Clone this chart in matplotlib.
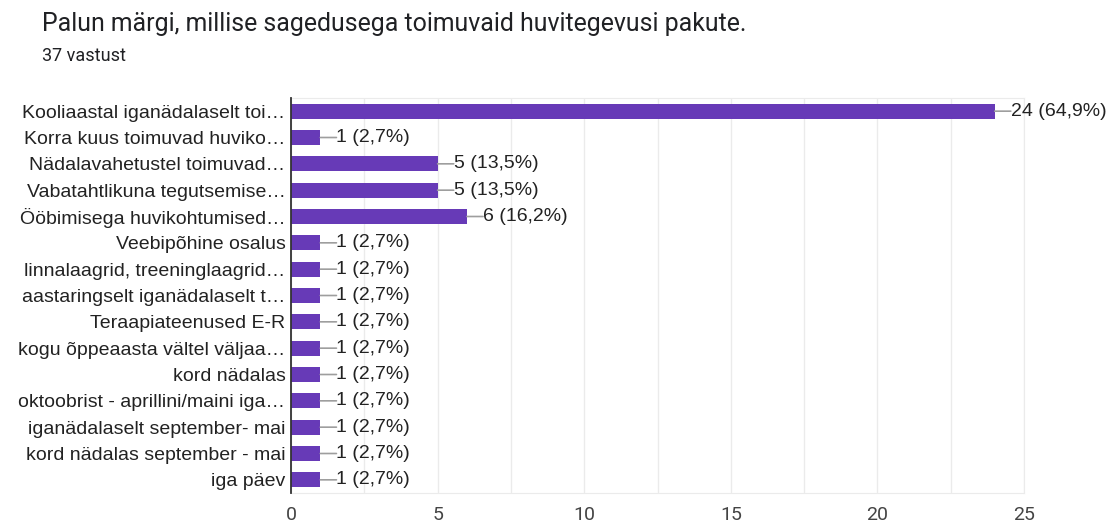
import matplotlib.pyplot as plt
import numpy as np

categories = [
    "Kooliaastal iganädalaselt toi…",
    "Korra kuus toimuvad huviko…",
    "Nädalavahetustel toimuvad…",
    "Vabatahtlikuna tegutsemise…",
    "Ööbimisega huvikohtumised…",
    "Veebipõhine osalus",
    "linnalaagrid, treeninglaagrid…",
    "aastaringselt iganädalaselt t…",
    "Teraapiateenused E-R",
    "kogu õppeaasta vältel väljaa…",
    "kord nädalas",
    "oktoobrist - aprillini/maini iga…",
    "iganädalaselt september- mai",
    "kord nädalas september - mai",
    "iga päev",
]
counts = [24, 1, 5, 5, 6, 1, 1, 1, 1, 1, 1, 1, 1, 1, 1]
percents = ["64,9%", "2,7%", "13,5%", "13,5%", "16,2%", "2,7%", "2,7%", "2,7%",
            "2,7%", "2,7%", "2,7%", "2,7%", "2,7%", "2,7%", "2,7%"]
xticks = [0, 5, 10, 15, 20, 25]

plt.rcParams["font.family"] = ["Liberation Sans", "DejaVu Sans"]

fig = plt.figure(figsize=(11.15, 5.22), dpi=100)
ax = fig.add_axes([291 / 1115, 1 - 493 / 522, (1024 - 291) / 1115, 395 / 522])

y = np.arange(len(categories))
ax.barh(y, counts, height=0.58, color="#673ab7", zorder=3)

# connector line + value label
for yi, c, p in zip(y, counts, percents):
    ax.annotate("", xy=(c, yi), xytext=(c + 0.55, yi),
                arrowprops=dict(arrowstyle="-", color="#9e9e9e", lw=1.2,
                                shrinkA=0, shrinkB=0), zorder=4)
    ax.text(c + 0.55, yi, f"{c} ({p})", va="center", ha="left",
            fontsize=14, color="#222222", zorder=5)

ax.set_xlim(0, 25)
ax.set_ylim(len(categories) - 0.5, -0.5)
ax.set_yticks(y)
ax.set_yticklabels(categories, fontsize=14, color="#222222")
ax.set_xticks(xticks)
ax.set_xticklabels([str(t) for t in xticks], fontsize=14, color="#444444",
                   family=["Roboto", "DejaVu Sans"])
ax.set_xticks(np.arange(0, 25.1, 2.5), minor=True)
ax.tick_params(axis="both", which="both", length=0, pad=4)
ax.tick_params(axis="x", pad=9.5)
ax.grid(True, axis="x", which="both", color="#ebebeb", lw=1, zorder=0)

for side in ["top", "right", "bottom"]:
    ax.spines[side].set_color("#ebebeb")
ax.spines["left"].set_color("#333333")
ax.spines["left"].set_linewidth(1.3)
ax.spines["left"].set_zorder(6)

fig.text(42 / 1115, 1 - 24 / 522, "Palun märgi, millise sagedusega toimuvaid huvitegevusi pakute.",
         fontsize=17.9, color="#202124", va="center", ha="left",
         family=["Roboto", "DejaVu Sans"])
fig.text(42 / 1115, 1 - 56 / 522, "37 vastust", fontsize=13, color="#202124",
         va="center", ha="left", family=["Roboto", "DejaVu Sans"])

fig.savefig("out.png", dpi=100, facecolor="white")
